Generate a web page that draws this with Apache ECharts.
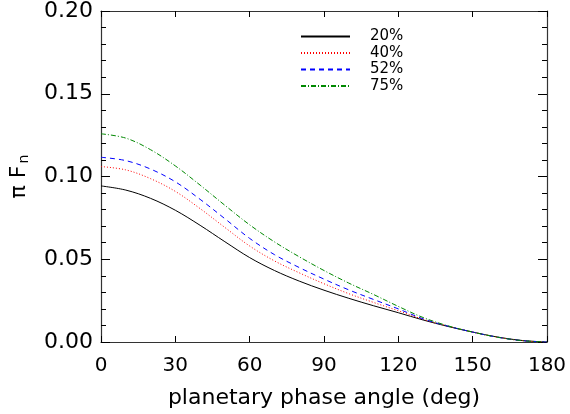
<!DOCTYPE html>
<html><head><meta charset="utf-8">
<script src="https://cdn.jsdelivr.net/npm/echarts@6/dist/echarts.min.js"></script>
<style>html,body{margin:0;padding:0;background:#fff}#c{width:570px;height:414px}</style>
</head><body><div id="c"></div>
<script>
const phaseAngles = [0,10,20,30,40,50,60,70,80,90,100,110,120,130,140,150,160,170,180];
const f20 = [0.0943,0.0918,0.0868,0.0796,0.0705,0.0606,0.0510,0.0432,0.0368,0.0313,0.0264,0.0219,0.0177,0.0133,0.0094,0.0060,0.0030,0.0009,0.0];
const f40 = [0.1060,0.1040,0.0987,0.0910,0.0806,0.0692,0.0580,0.0490,0.0418,0.0352,0.0292,0.0239,0.0189,0.0137,0.0096,0.0060,0.0029,0.0008,0.0];
const f52 = [0.1116,0.1096,0.1045,0.0968,0.0862,0.0745,0.0626,0.0528,0.0450,0.0380,0.0315,0.0257,0.0200,0.0140,0.0096,0.0060,0.0029,0.0008,0.0];
const f75 = [0.1258,0.1232,0.1162,0.1064,0.0948,0.0826,0.0708,0.0605,0.0515,0.0432,0.0356,0.0287,0.0215,0.0148,0.0098,0.0060,0.0029,0.0008,0.0];
const seriesNames = ['20%','40%','52%','75%'];
const seriesColors = ['#000000','#ff0000','#0000ff','#008800'];
const seriesDash = ['solid',[1,2],[5,4],[5,2,1,2]];
const xTicks = [0,30,60,90,120,150,180];
const yTicks = [0.00,0.05,0.10,0.15,0.20];

const data = [f20,f40,f52,f75];
const font = 'DejaVu Sans';
const axisLineStyle = {color:'#333', width:1.2};
const chart = echarts.init(document.getElementById('c'));
chart.setOption({
  animation:false,
  backgroundColor:'#fff',
  grid:{left:101,right:23,top:6,bottom:71},
  legend:{
    orient:'vertical', left:300, top:29, padding:0, itemWidth:49, itemHeight:10, itemGap:1.5,
    data:seriesNames,
    itemStyle:{opacity:0},
    textStyle:{fontFamily:font,fontSize:15,color:'#000',padding:[0,0,9,15]}
  },
  xAxis:[{
    type:'value', min:xTicks[0], max:xTicks[xTicks.length-1], interval:30,
    axisLine:{show:true,onZero:false,lineStyle:axisLineStyle},
    axisTick:{show:true,inside:true,length:6,lineStyle:{color:'#000'}},
    axisLabel:{fontFamily:font,fontSize:20,color:'#000',margin:14},
    splitLine:{show:false},
    name:'planetary phase angle (deg)', nameLocation:'middle', nameGap:45,
    nameTextStyle:{fontFamily:font,fontSize:22,color:'#000'}
  },{
    type:'value', position:'top', min:xTicks[0], max:xTicks[xTicks.length-1], interval:30,
    axisLine:{show:true,onZero:false,lineStyle:axisLineStyle},
    axisTick:{show:true,inside:true,length:6,lineStyle:{color:'#000'}},
    axisLabel:{show:false}, splitLine:{show:false}
  }],
  yAxis:[{
    type:'value', min:yTicks[0], max:yTicks[yTicks.length-1], interval:0.05,
    axisLine:{show:true,onZero:false,lineStyle:axisLineStyle},
    axisTick:{show:true,inside:true,length:9,lineStyle:{color:'#000'}},
    minorTick:{show:true,splitNumber:5,length:5,lineStyle:{color:'#000'}},
    axisLabel:{fontFamily:font,fontSize:22,color:'#000',margin:8,formatter:v=>v.toFixed(2)},
    splitLine:{show:false},
    name:'{m|π F}{s|n}', nameLocation:'middle', nameGap:70,
    nameTextStyle:{fontFamily:font,fontSize:22,color:'#000',
      rich:{m:{fontFamily:font,fontSize:22,color:'#000'},s:{fontFamily:font,fontSize:14,color:'#000',padding:[10,0,0,2]}}}
  },{
    type:'value', position:'right', min:yTicks[0], max:yTicks[yTicks.length-1], interval:0.05,
    axisLine:{show:true,onZero:false,lineStyle:axisLineStyle},
    axisTick:{show:true,inside:true,length:9,lineStyle:{color:'#000'}},
    minorTick:{show:true,splitNumber:5,length:5,lineStyle:{color:'#000'}},
    axisLabel:{show:false}, splitLine:{show:false}
  }],
  series: data.map((d,i)=>({
    name:seriesNames[i], type:'line', smooth:0.35, symbol:'none',
    data: phaseAngles.map((x,j)=>[x,d[j]]),
    lineStyle:{color:seriesColors[i],width:1,type:seriesDash[i]},
    itemStyle:{color:seriesColors[i]}
  }))
});
</script></body></html>
